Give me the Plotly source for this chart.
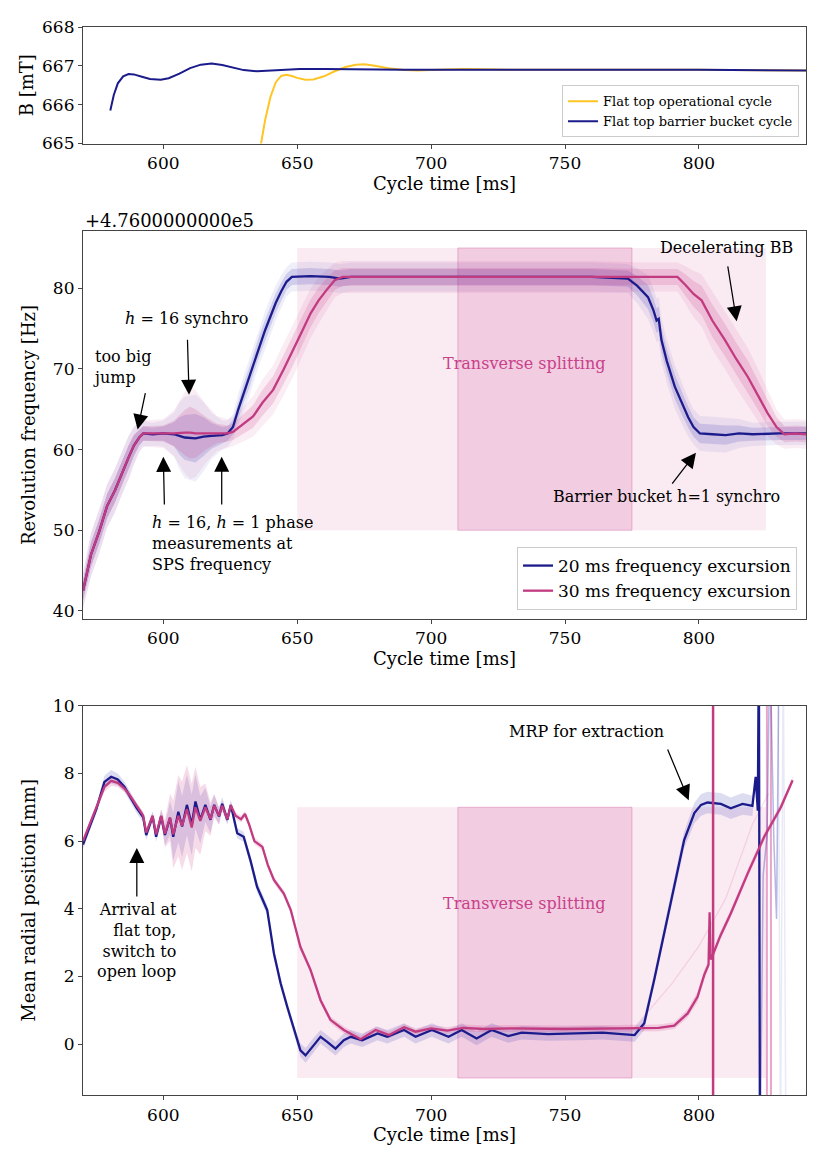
import numpy as np
import plotly.graph_objects as go

# ---------------- data ----------------
# Top panel: magnetic field
op_t = [635.5, 636.5, 638, 640, 642, 644, 646, 648, 650, 653, 656, 660, 664, 668, 672, 675, 679, 684, 690, 695, 700, 706, 712, 720, 730, 760, 800, 840]
op_B = [664.8, 665.0, 665.6, 666.2, 666.58, 666.74, 666.77, 666.74, 666.69, 666.64, 666.65, 666.73, 666.86, 666.97, 667.03, 667.04, 667.0, 666.94, 666.89, 666.88, 666.89, 666.91, 666.92, 666.91, 666.9, 666.9, 666.9, 666.88]
bb_t = [580.2, 581.5, 583, 585, 587, 589, 592, 595, 599, 602, 606, 610, 614, 618, 622, 626, 630, 635, 640, 645, 651, 660, 670, 690, 720, 760, 800, 840]
bb_B = [665.85, 666.25, 666.55, 666.73, 666.79, 666.78, 666.72, 666.66, 666.64, 666.68, 666.8, 666.94, 667.03, 667.06, 667.02, 666.95, 666.89, 666.86, 666.88, 666.91, 666.92, 666.92, 666.91, 666.9, 666.9, 666.9, 666.9, 666.88]

# Middle panel: revolution frequency (offset 4.76e5 Hz)
f20_t = [570, 573, 576, 579, 582, 585, 587, 589, 591, 592.5, 596, 600, 604, 606, 608, 612, 615, 618, 622, 624, 626, 628, 630, 632, 634, 636, 638, 640, 642, 644, 646, 648, 655, 662, 666, 670, 680, 700, 720, 740, 760, 773.5, 777, 781, 783, 784.2, 785, 786, 788, 791, 793.5, 796, 798, 800.4, 805, 810, 815, 820, 830, 840]
f20 = [42.5, 47, 49.8, 53, 55, 57.5, 59, 60.5, 61.5, 62, 61.9, 62, 61.9, 61.7, 61.5, 61.4, 61.6, 61.7, 61.8, 62, 62.8, 65, 67, 68.8, 71, 73, 74.8, 76.5, 78.2, 79.6, 80.8, 81.4, 81.5, 81.4, 81.2, 81.4, 81.4, 81.4, 81.4, 81.4, 81.4, 81.2, 80.3, 78.9, 77.3, 76.0, 76.2, 73.6, 71, 67.8, 65.8, 64, 62.8, 62.0, 61.9, 61.8, 62, 61.9, 62, 62]
f20_spread = [1.2, 1.5, 1.5, 1.5, 1.5, 1.5, 1.5, 1.3, 1.0, 0.9, 0.8, 0.9, 1.5, 2.3, 2.8, 3.0, 2.4, 1.6, 1.0, 0.9, 0.9, 1.1, 1.2, 1.3, 1.3, 1.3, 1.3, 1.3, 1.2, 1.1, 1.0, 1.0, 1.0, 1.0, 1.0, 1.0, 1.0, 1.0, 1.0, 1.0, 1.0, 1.0, 1.2, 1.5, 1.5, 1.5, 1.5, 1.5, 1.5, 1.5, 1.4, 1.3, 1.2, 1.2, 1.2, 1.2, 1.0, 0.8, 0.8, 0.8]

f30_t = [570, 573, 576, 579, 582, 585, 587, 589, 591, 592.5, 600, 604, 608, 610, 612, 616, 620, 624, 626, 630, 633.5, 637, 641, 645, 648.5, 652, 655, 658, 661, 664, 667, 680, 700, 720, 740, 760, 780, 792, 795, 798, 801, 805, 809.7, 814, 818.3, 822, 825.7, 829, 832, 836, 840]
f30 = [42.5, 47, 49.8, 53, 55, 57.5, 59, 60.5, 61.5, 62, 62, 62.0, 62.1, 62.1, 62.0, 62.0, 62.0, 62, 62.2, 63.2, 64.1, 65.8, 67.4, 70, 72.3, 74.8, 76.9, 78.5, 79.8, 81, 81.4, 81.4, 81.4, 81.4, 81.4, 81.4, 81.4, 81.4, 80.4, 79.3, 78.5, 76, 73.6, 71.2, 69, 66.8, 64.5, 62.8, 61.9, 62, 61.9]
f30_spread = [1.2, 1.5, 1.5, 1.5, 1.5, 1.5, 1.5, 1.3, 1.0, 0.9, 1.0, 1.6, 2.8, 3.2, 3.0, 2.0, 1.2, 1.0, 1.0, 1.2, 1.4, 1.6, 1.7, 1.8, 1.8, 1.8, 1.7, 1.6, 1.4, 1.2, 1.1, 1.1, 1.1, 1.1, 1.1, 1.1, 1.0, 1.0, 1.3, 1.6, 1.8, 2.0, 2.0, 2.0, 2.0, 1.8, 1.6, 1.2, 1.0, 1.0, 1.0]

# Bottom panel: mean radial position
r20_t = [570.0, 572.5, 575.0, 578.0, 580.5, 583.0, 585.5, 587.5, 590.0, 592.5, 593.6, 596.0, 597.3, 599.2, 600.6, 602.5, 603.7, 605.6, 607.0, 608.8, 610.6, 612.0, 613.8, 615.7, 617.6, 619.0, 620.8, 622.0, 623.9, 625.2, 626.4, 627.6, 630.0, 632.5, 635.0, 638.8, 641.3, 643.8, 646.3, 648.8, 651.2, 653.1, 655.6, 658.7, 661.2, 664.3, 667.4, 670.0, 674.3, 680.0, 683.6, 689.9, 694.2, 700.3, 706.5, 711.4, 717.0, 722.6, 728.8, 733.8, 743.7, 756.0, 764.0, 776.0, 779.6, 783.3, 787.0, 790.8, 794.5, 798.3, 800.8, 803.2, 808.2, 811.9, 816.3, 820.0, 821.2, 822.0, 822.4, 822.8]
r20 = [5.9, 6.45, 6.95, 7.75, 7.9, 7.82, 7.6, 7.32, 6.98, 6.7, 6.18, 6.73, 6.13, 6.73, 6.18, 6.68, 6.13, 6.87, 6.43, 7.07, 6.48, 7.17, 6.63, 7.07, 6.63, 7.07, 6.73, 7.1, 6.63, 7.07, 6.63, 6.23, 6.13, 5.44, 4.65, 3.96, 2.68, 1.8, 1.1, 0.42, -0.18, -0.33, -0.08, 0.22, 0.07, -0.13, 0.12, 0.22, 0.12, 0.32, 0.22, 0.42, 0.22, 0.42, 0.22, 0.42, 0.17, 0.42, 0.24, 0.34, 0.30, 0.32, 0.34, 0.27, 0.62, 1.9, 3.26, 4.65, 6.03, 6.83, 7.07, 7.14, 7.10, 6.97, 7.10, 7.04, 7.9, 6.9, 12.0, -3.0]
r20_spread = [0.15, 0.15, 0.15, 0.18, 0.2, 0.18, 0.15, 0.15, 0.15, 0.15, 0.15, 0.15, 0.15, 0.2, 0.3, 0.5, 0.7, 0.9, 0.9, 0.9, 0.9, 0.8, 0.7, 0.5, 0.4, 0.3, 0.25, 0.2, 0.15, 0.15, 0.15, 0.15, 0.15, 0.15, 0.15, 0.15, 0.15, 0.15, 0.15, 0.15, 0.2, 0.22, 0.22, 0.2, 0.2, 0.2, 0.2, 0.2, 0.2, 0.2, 0.2, 0.2, 0.2, 0.2, 0.2, 0.2, 0.2, 0.2, 0.2, 0.2, 0.2, 0.2, 0.2, 0.2, 0.2, 0.2, 0.2, 0.2, 0.25, 0.3, 0.32, 0.32, 0.32, 0.32, 0.32, 0.3, 0.0, 0.0, 0.0, 0.0]

r30_t = [570.0, 572.5, 575.0, 578.0, 580.5, 583.0, 585.5, 587.5, 590.0, 592.5, 593.6, 596.0, 597.3, 599.2, 600.6, 602.5, 603.7, 605.6, 607.0, 608.8, 610.6, 612.0, 613.8, 615.7, 617.6, 619.0, 620.8, 622.0, 623.9, 625.2, 627.0, 629.0, 630.5, 632.0, 634.0, 637.0, 639.0, 641.3, 645.0, 647.6, 651.2, 655.0, 658.7, 662.4, 667.4, 673.7, 679.3, 684.3, 689.9, 694.2, 700, 706, 712, 720, 730, 750, 770, 785, 790.8, 795.8, 799.5, 802.0, 803.6, 804.0, 804.4, 805.0, 808, 811.9, 818.2, 824.4, 830.6, 835.0]
r30 = [6.0, 6.5, 6.95, 7.6, 7.78, 7.72, 7.55, 7.35, 7.05, 6.75, 6.25, 6.75, 6.2, 6.75, 6.22, 6.7, 6.2, 6.75, 6.45, 6.95, 6.4, 7.0, 6.6, 7.0, 6.65, 7.05, 6.75, 7.05, 6.65, 7.05, 6.75, 6.65, 6.8, 6.5, 6.0, 5.83, 5.3, 4.85, 4.45, 3.96, 2.87, 2.19, 1.3, 0.72, 0.42, 0.15, 0.42, 0.27, 0.5, 0.37, 0.47, 0.4, 0.48, 0.45, 0.47, 0.45, 0.47, 0.48, 0.55, 0.91, 1.4, 2.05, 2.35, 3.9, 2.5, 2.6, 3.2, 3.86, 5.04, 6.13, 7.0, 7.8]
r30_spread = [0.1, 0.1, 0.1, 0.15, 0.15, 0.12, 0.1, 0.1, 0.1, 0.1, 0.1, 0.1, 0.12, 0.2, 0.4, 0.7, 1.0, 1.2, 1.3, 1.3, 1.3, 1.2, 1.0, 0.7, 0.5, 0.35, 0.25, 0.15, 0.12, 0.1, 0.1, 0.1, 0.1, 0.1, 0.1, 0.1, 0.1, 0.1, 0.1, 0.1, 0.1, 0.1, 0.1, 0.1, 0.1, 0.1, 0.1, 0.1, 0.1, 0.1, 0.1, 0.1, 0.1, 0.1, 0.1, 0.1, 0.1, 0.1, 0.1, 0.12, 0.15, 0.15, 0.1, 0.0, 0.0, 0.1, 0.12, 0.12, 0.12, 0.12, 0.12, 0.1]

# individual outlier shots (bottom panel)
shot30a_t = [805.3, 805.3]
shot30a_r = [-3.0, 12.0]
shot30b_t = [825.4, 825.4, 826.9, 826.9]
shot30b_r = [-3.0, 12.0, 12.0, -3.0]
shot30c_t = [776, 790, 800, 810, 820, 826]
shot30c_r = [0.5, 1.8, 2.9, 4.3, 6.5, 7.4]
shot20a_t = [822.9, 824.0, 825.5, 826.5, 828.0, 829.0, 830.0]
shot20a_r = [-3.0, 5.0, 6.2, 12.0, 6.0, 3.7, 12.0]
shot20b_t = [829.5, 830.5, 831.5, 832.5]
shot20b_r = [12.0, -3.0, 12.0, -3.0]

# highlighted regions
bb_region = [650, 825]
ts_region = [710, 775]
f_region_y = [50, 85]
r_region_y = [-1, 7]

# ---------------- styles ----------------
BLUE = "#1b1b8c"
PINK = "#c23a80"
YELLOW = "#ffc524"
BLUE_BAND = "rgba(45,45,175,0.16)"
PINK_BAND = "rgba(205,55,135,0.18)"
FONT = "DejaVu Serif"
AX = "#444444"

fig = go.Figure()


def band(t, m, s, color, xa, ya, k=1.0):
    t = np.asarray(t, float)
    m = np.asarray(m, float)
    s = np.asarray(s, float) * k
    fig.add_trace(go.Scatter(
        x=np.concatenate([t, t[::-1]]),
        y=np.concatenate([m + s, (m - s)[::-1]]),
        fill="toself", fillcolor=color, line=dict(width=0),
        mode="lines", showlegend=False, hoverinfo="skip",
        xaxis=xa, yaxis=ya))


# top panel
fig.add_trace(go.Scatter(x=op_t, y=op_B, mode="lines", name="Flat top operational cycle",
                         line=dict(color=YELLOW, width=2), xaxis="x", yaxis="y", legend="legend"))
fig.add_trace(go.Scatter(x=bb_t, y=bb_B, mode="lines", name="Flat top barrier bucket cycle",
                         line=dict(color=BLUE, width=2), xaxis="x", yaxis="y", legend="legend"))

# middle panel
band(f20_t, f20, f20_spread, "rgba(45,45,175,0.08)", "x2", "y2", 1.8)
band(f30_t, f30, f30_spread, "rgba(205,55,135,0.09)", "x2", "y2", 1.8)
band(f20_t, f20, f20_spread, BLUE_BAND, "x2", "y2")
band(f30_t, f30, f30_spread, PINK_BAND, "x2", "y2")
fig.add_trace(go.Scatter(x=f20_t, y=f20, mode="lines", name="20 ms frequency excursion",
                         line=dict(color=BLUE, width=2.3), xaxis="x2", yaxis="y2", legend="legend2"))
fig.add_trace(go.Scatter(x=f30_t, y=f30, mode="lines", name="30 ms frequency excursion",
                         line=dict(color=PINK, width=2.3), xaxis="x2", yaxis="y2", legend="legend2"))

# bottom panel
band(r20_t, r20, r20_spread, BLUE_BAND, "x3", "y3")
band(r30_t, r30, r30_spread, PINK_BAND, "x3", "y3")
for tt, rr, col, w in [(shot30b_t, shot30b_r, "rgba(205,55,135,0.45)", 2),
                       (shot30c_t, shot30c_r, "rgba(205,55,135,0.15)", 1.2),
                       (shot20a_t, shot20a_r, "rgba(45,45,175,0.35)", 1.5),
                       (shot20b_t, shot20b_r, "rgba(45,45,175,0.1)", 1.5)]:
    fig.add_trace(go.Scatter(x=tt, y=rr, mode="lines", line=dict(color=col, width=w),
                             showlegend=False, hoverinfo="skip", xaxis="x3", yaxis="y3"))
fig.add_trace(go.Scatter(x=r20_t, y=r20, mode="lines", line=dict(color=BLUE, width=2.3),
                         showlegend=False, xaxis="x3", yaxis="y3"))
fig.add_trace(go.Scatter(x=r30_t, y=r30, mode="lines", line=dict(color=PINK, width=2.3),
                         showlegend=False, xaxis="x3", yaxis="y3"))
fig.add_trace(go.Scatter(x=shot30a_t, y=shot30a_r, mode="lines", line=dict(color=PINK, width=2.5),
                         showlegend=False, hoverinfo="skip", xaxis="x3", yaxis="y3"))

# shaded regions
shapes = []
for xr, yr, ya in [("x2", f_region_y, "y2"), ("x3", r_region_y, "y3")]:
    shapes.append(dict(type="rect", xref=xr, yref=ya, x0=bb_region[0], x1=bb_region[1],
                       y0=yr[0], y1=yr[1], fillcolor="rgba(205,60,140,0.11)",
                       line=dict(width=0), layer="below"))
    shapes.append(dict(type="rect", xref=xr, yref=ya, x0=ts_region[0], x1=ts_region[1],
                       y0=yr[0], y1=yr[1], fillcolor="rgba(200,60,140,0.17)",
                       line=dict(width=1, color="rgba(200,60,140,0.3)"), layer="below"))

# ---------------- axes ----------------
tickfont = dict(family=FONT, size=17, color="black")
titlefont = dict(family=FONT, size=18, color="black")


def xax(anchor, title=True):
    return dict(anchor=anchor, domain=[0, 1], range=[570, 840], tickvals=[600, 650, 700, 750, 800],
                showline=True, mirror=True, linecolor=AX, linewidth=1.2, ticks="outside",
                ticklen=4, tickcolor=AX, showgrid=False, zeroline=False, tickfont=tickfont,
                automargin=False,
                title=dict(text="Cycle time [ms]", font=titlefont, standoff=2))


def yax(anchor, dom, rng, vals, title, standoff):
    return dict(anchor=anchor, domain=dom, range=rng, tickvals=vals,
                showline=True, mirror=True, linecolor=AX, linewidth=1.2, ticks="outside",
                ticklen=4, tickcolor=AX, showgrid=False, zeroline=False, tickfont=tickfont,
                automargin=False,
                title=dict(text=title, font=titlefont, standoff=standoff))


ann = []


def arrow(xa, ya, tail, tip):
    ann.append(dict(xref=xa, yref=ya, axref=xa, ayref=ya, x=tip[0], y=tip[1], ax=tail[0], ay=tail[1],
                    text="", showarrow=True, arrowhead=2, arrowsize=2.4, arrowwidth=1.25,
                    arrowcolor="black", standoff=0, startstandoff=0))


def label(xa, ya, x, y, text, xanchor="center", align="center", color="black", size=16):
    ann.append(dict(xref=xa, yref=ya, x=x, y=y, text=text, showarrow=False, xanchor=xanchor,
                    yanchor="middle", align=align, font=dict(family=FONT, size=size, color=color)))


# middle annotations
label("x2", "y2", 572.8, 70.2, "too big<br>jump", xanchor="left", align="left")
arrow("x2", "y2", (593.4, 67.2), (590.4, 62.5))
label("x2", "y2", 608.8, 76.2, "<i>h</i> = 16 synchro")
arrow("x2", "y2", (609.0, 73.8), (609.6, 66.8))
arrow("x2", "y2", (600.4, 53.0), (600.0, 59.1))
arrow("x2", "y2", (621.8, 53.0), (621.8, 59.1))
label("x2", "y2", 595.1, 48.3, "<i>h</i> = 16, <i>h</i> = 1 phase<br>measurements at<br>SPS frequency",
      xanchor="left", align="left")
label("x2", "y2", 810.4, 85.1, "Decelerating BB")
arrow("x2", "y2", (810.7, 82.9), (814.1, 75.9))
label("x2", "y2", 735.0, 70.7, "Transverse splitting", color="#c8418a")
label("x2", "y2", 787.8, 54.2, "Barrier bucket h=1 synchro")
arrow("x2", "y2", (789.6, 55.6), (798.9, 59.6))

# bottom annotations
label("x3", "y3", 757.9, 9.25, "MRP for extraction")
arrow("x3", "y3", (788.1, 8.75), (796.2, 7.21))
label("x3", "y3", 605.8, 3.06, "Arrival at<br>flat top,<br>switch to<br>open loop", xanchor="right", align="right")
arrow("x3", "y3", (590.1, 4.32), (590.1, 5.8))
label("x3", "y3", 735.0, 4.16, "Transverse splitting", color="#c8418a")

# offset text
ann.append(dict(xref="paper", yref="paper", x=0, y=0.8184, text="+4.7600000000e5", showarrow=False,
                xanchor="left", yanchor="middle", font=dict(family=FONT, size=18, color="black")))

fig.update_layout(
    width=830, height=1163, template="none",
    paper_bgcolor="white", plot_bgcolor="white",
    margin=dict(l=83, r=24, t=27, b=68),
    font=dict(family=FONT, size=16, color="black"),
    xaxis=xax("y"), yaxis=yax("x", [0.8909, 1.0], [665, 668], [665, 666, 667, 668], "B [mT]", 3),
    xaxis2=xax("y2"), yaxis2=yax("x2", [0.4457, 0.8090], [39.0, 87.1], [40, 50, 60, 70, 80],
                                 "Revolution frequency [Hz]", 12),
    xaxis3=xax("y3"), yaxis3=yax("x3", [0.0, 0.3645], [-1.5, 10], [0, 2, 4, 6, 8, 10],
                                 "Mean radial position [mm]", 12),
    shapes=shapes, annotations=ann,
    legend=dict(x=0.9903, y=0.8967, xanchor="right", yanchor="bottom", bgcolor="white",
                bordercolor="#cccccc", borderwidth=1, font=dict(family=FONT, size=13),
                tracegroupgap=0),
    legend2=dict(x=0.9876, y=0.4541, xanchor="right", yanchor="bottom", bgcolor="white",
                 bordercolor="#cccccc", borderwidth=1, font=dict(family=FONT, size=17),
                 tracegroupgap=0),
    showlegend=True,
)

fig.write_html("out.html", config={"displayModeBar": False},
               post_script="document.body.style.margin='0';document.body.style.overflow='hidden';")
